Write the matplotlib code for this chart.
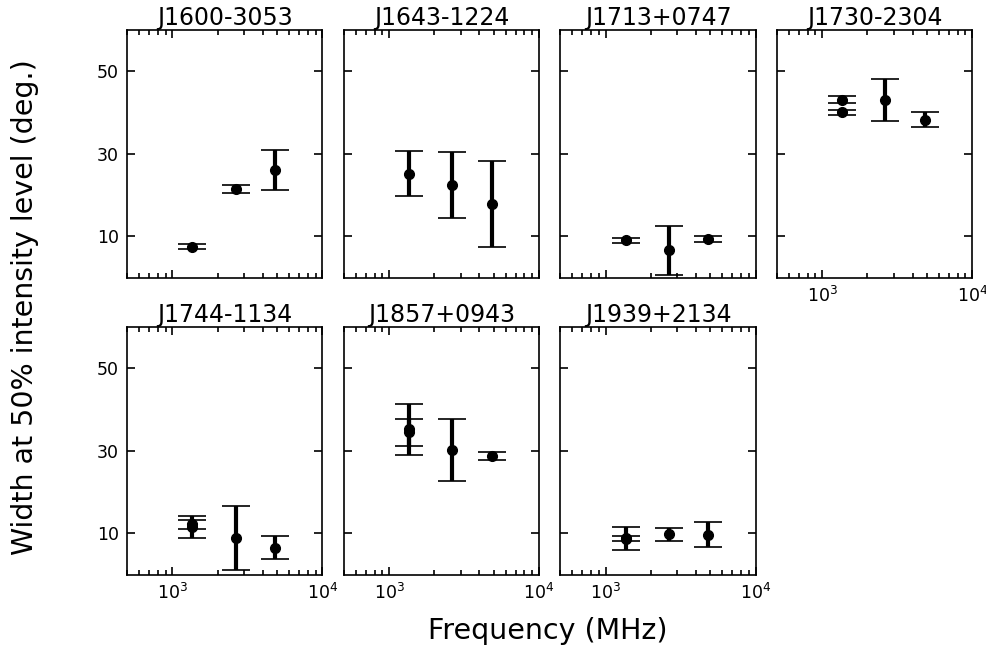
import matplotlib
matplotlib.use('Agg')
import matplotlib.pyplot as plt
from matplotlib.ticker import LogLocator, NullFormatter, NullLocator

# pulsar names, one panel each
pulsars = ['J1600-3053', 'J1643-1224', 'J1713+0747', 'J1730-2304',
           'J1744-1134', 'J1857+0943', 'J1939+2134']

# observing frequencies (MHz), widths at 50% (deg) and errors
freqs = {
    'J1600-3053': [1360, 2640, 4850],
    'J1643-1224': [1360, 2640, 4850],
    'J1713+0747': [1360, 2640, 4850],
    'J1730-2304': [1360, 1360, 2640, 4850],
    'J1744-1134': [1360, 1360, 2640, 4850],
    'J1857+0943': [1360, 1360, 2640, 4850],
    'J1939+2134': [1360, 1360, 2640, 4850],
}
widths = {
    'J1600-3053': [7.5, 21.4, 26.0],
    'J1643-1224': [25.1, 22.4, 17.8],
    'J1713+0747': [9.0, 6.6, 9.35],
    'J1730-2304': [43.1, 40.0, 43.1, 38.2],
    'J1744-1134': [12.2, 11.5, 9.0, 6.6],
    'J1857+0943': [35.2, 34.5, 30.3, 28.8],
    'J1939+2134': [8.7, 8.9, 9.85, 9.75],
}
errors = {
    'J1600-3053': [0.5, 0.9, 4.85],
    'J1643-1224': [5.45, 7.95, 10.5],
    'J1713+0747': [0.6, 5.95, 0.65],
    'J1730-2304': [0.8, 0.65, 5.1, 1.85],
    'J1744-1134': [1.05, 2.7, 7.75, 2.7],
    'J1857+0943': [6.2, 3.2, 7.5, 0.95],
    'J1939+2134': [2.8, 0.6, 1.55, 2.95],
}

fig, axes = plt.subplots(2, 4, figsize=(9.87, 6.48), dpi=100)
fig.subplots_adjust(left=0.129, right=0.985, top=0.954, bottom=0.113,
                    wspace=0.11, hspace=0.2)
axes = axes.flatten()
axes[7].remove()

for i, name in enumerate(pulsars):
    ax = axes[i]
    ax.errorbar(freqs[name], widths[name], yerr=errors[name], fmt='o',
                color='k', markersize=7, elinewidth=3, capsize=10,
                capthick=1.2)
    ax.set_xscale('log')
    ax.set_xlim(500, 10000)
    ax.set_ylim(0, 60)
    ax.set_yticks([10, 30, 50])
    ax.yaxis.set_minor_locator(NullLocator())
    ax.xaxis.set_major_locator(LogLocator(base=10))
    ax.xaxis.set_minor_locator(LogLocator(base=10, subs=range(2, 10)))
    ax.xaxis.set_minor_formatter(NullFormatter())
    ax.tick_params(which='both', direction='in', top=True, right=True,
                   labelsize=12.5, width=1.2)
    ax.tick_params(which='major', length=6, pad=6)
    ax.tick_params(which='minor', length=3.5)
    for sp in ax.spines.values():
        sp.set_linewidth(1.2)
    ax.set_title(name, fontsize=17, pad=0)
    if i % 4 != 0:
        ax.tick_params(labelleft=False)
    if i < 3:
        ax.tick_params(labelbottom=False)

fig.text(0.025, 0.526, 'Width at 50% intensity level (deg.)', rotation=90,
         ha='center', va='center', fontsize=20.5)
fig.text(0.555, 0.026, 'Frequency (MHz)', ha='center', va='center',
         fontsize=20.5)

fig.savefig('out.png', dpi=100)
